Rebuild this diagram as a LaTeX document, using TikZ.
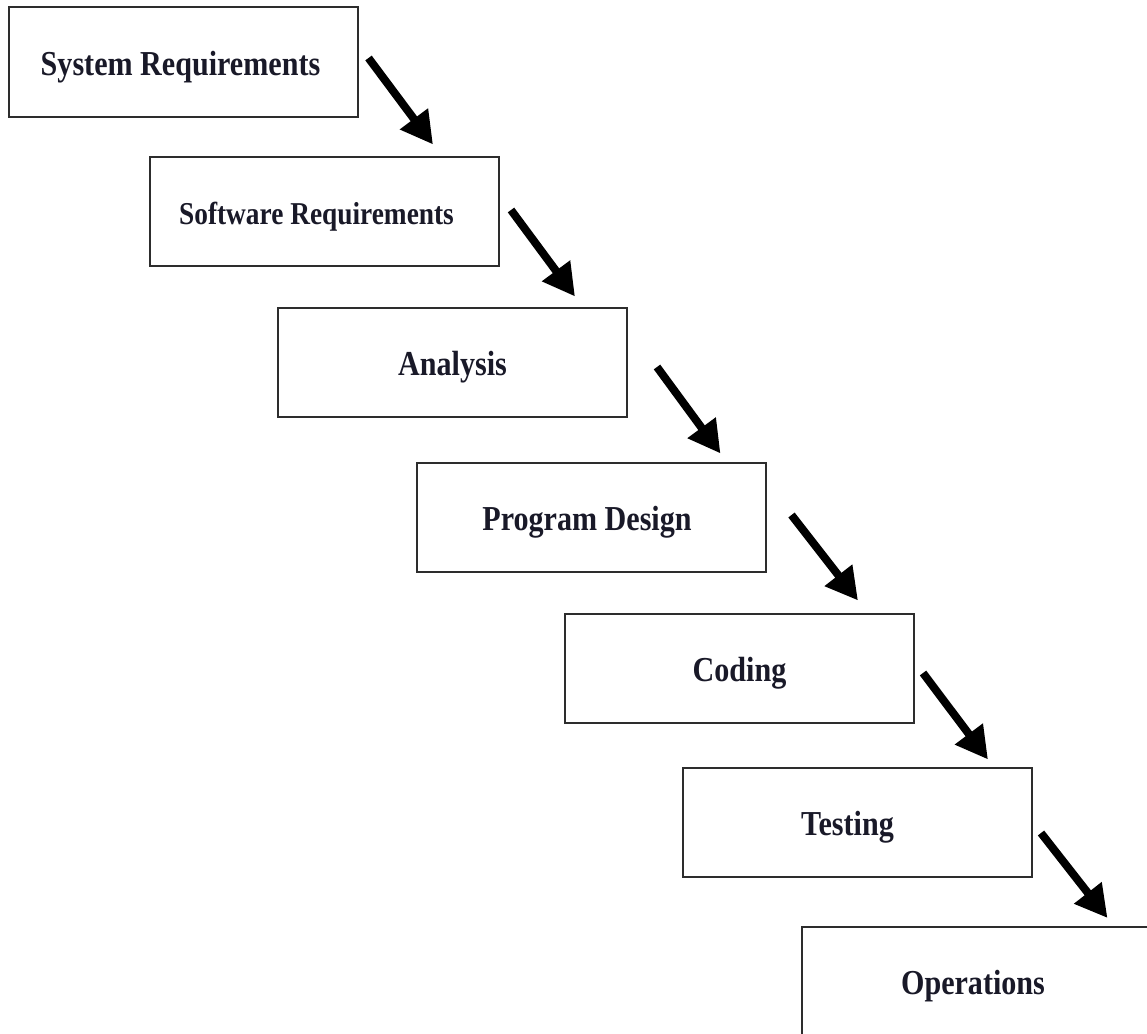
\documentclass[tikz,border=0pt]{standalone}
\usepackage{fontspec}
\setmainfont{Liberation Serif}
\newfontfamily\boxfont{Liberation Serif}[FakeStretch=0.86]
\usetikzlibrary{arrows.meta}
\definecolor{boxline}{RGB}{45,45,45}
\definecolor{boxtext}{RGB}{25,25,40}
\tikzset{
  phase/.style={draw=boxline, line width=2pt, fill=white, minimum width=349pt, minimum height=109pt,
    inner sep=0pt, font=\boxfont\bfseries\fontsize{35}{40}\selectfont, text=boxtext,
    text height=26pt, text depth=0pt},
  flow/.style={line width=8pt, -{Triangle[length=32pt,width=33pt]}}
}
\begin{document}
\begin{tikzpicture}[x=1pt,y=-1pt]
\useasboundingbox (0,0) rectangle (1147,1033);
\clip (0,0) rectangle (1147,1033);
\node[phase] (sys) at (183,62) {\hspace*{-5pt}System Requirements};
\node[phase, font=\boxfont\bfseries\fontsize{31.8}{36}\selectfont] (soft) at (324.5,211) {\hspace*{-16pt}Software Requirements};
\node[phase] (ana) at (452.5,362) {Analysis};
\node[phase] (prog) at (591,517) {\hspace*{-8pt}Program Design};
\node[phase] (cod) at (739.5,668) {Coding};
\node[phase] (test) at (857.5,822) {\hspace*{-20pt}Testing};
\node[phase] (ops) at (976,981.5) {\hspace*{-6pt}Operations};
\draw[flow] ([shift={(10,-4)}]sys.east) -- ([shift={(-67,-11)}]soft.north east);
\draw[flow] ([shift={(11,-1)}]soft.east) -- ([shift={(-53,-10)}]ana.north east);
\draw[flow] ([shift={(29,5)}]ana.east) -- ([shift={(-46,-8)}]prog.north east);
\draw[flow] ([shift={(25,-2)}]prog.east) -- ([shift={(-57,-12)}]cod.north east);
\draw[flow] ([shift={(8,5)}]cod.east) -- ([shift={(-45,-7)}]test.north east);
\draw[flow] ([shift={(8,11)}]test.east) -- ([shift={(-44,-8)}]ops.north east);
\end{tikzpicture}
\end{document}
